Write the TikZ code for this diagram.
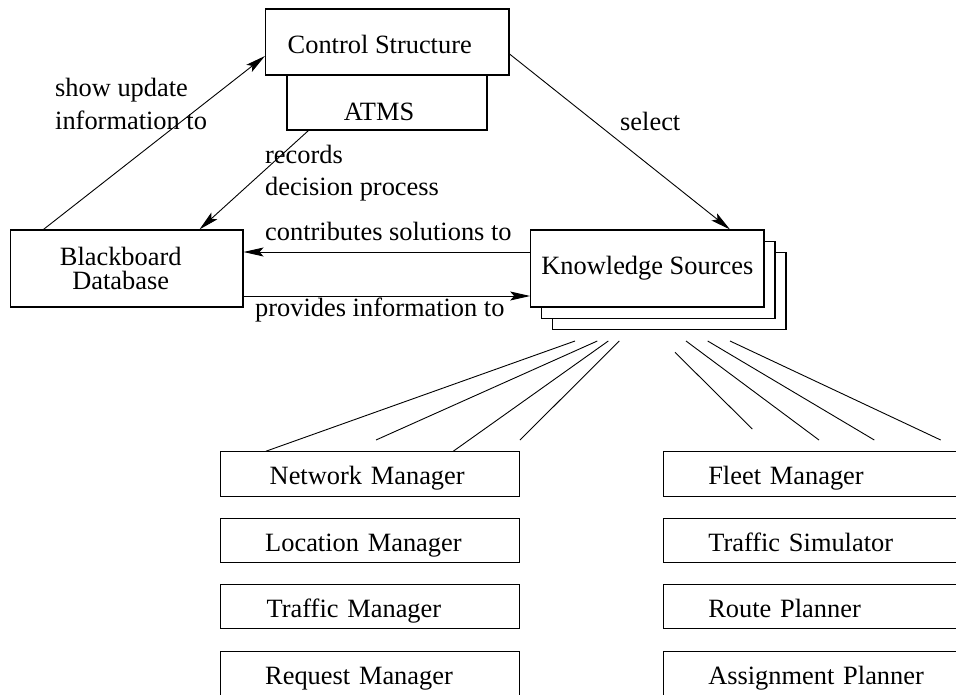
\documentclass[tikz,border=0pt]{standalone}
\usepackage{fontspec}
\setmainfont{Liberation Serif}
\usetikzlibrary{arrows.meta,calc}
\begin{document}
\begin{tikzpicture}[x=1pt,y=-1pt,
  every node/.style={font=\fontsize{26.4}{32.5}\selectfont},
  box/.style={draw, line width=1.1pt, fill=white, inner sep=0pt},
  lbl/.style={inner sep=0pt, anchor=base west},
  arr/.style={line width=0.9pt, -{Stealth[length=20pt,width=9pt,inset=4pt]}},
  ln/.style={line width=0.9pt},
  mgr/.style={box, minimum width=298.6pt, minimum height=44.3pt, text width=298.6pt, align=left, text height=22pt, text depth=0pt}
]
\clip (0,0) rectangle (956,694);

% top boxes
\node[box, minimum width=200pt, minimum height=55pt, text height=35pt, text depth=0pt] (atms) at (387,102.5) {ATMS\hspace*{16pt}};
\node[box, minimum width=243.5pt, minimum height=66pt, text height=22.6pt, text depth=0pt] (cs) at (387.25,42) {Control Structure\hspace*{15pt}};
\node[box, minimum width=232.5pt, minimum height=77pt, align=center, font=\fontsize{26.4}{24}\selectfont] (bb) at (126.75,268.5) {Blackboard\hspace*{12pt}\\Database\hspace*{12pt}};

% knowledge sources stack
\node[box, minimum width=233.3pt, minimum height=77pt] (ks3) at (669.35,291.2) {};
\node[box, minimum width=233.3pt, minimum height=77pt] (ks2) at (658.35,280) {};
\node[box, minimum width=233.3pt, minimum height=77pt] (ks) at (647.35,268.5) {Knowledge Sources};

% manager boxes
\node[mgr] (nm) at (370,473.9) {\hspace*{49pt}Network Manager};
\node[mgr] (lm) at (370,540.5) {\hspace*{44.5pt}Location Manager};
\node[mgr] (tm) at (370,606.7) {\hspace*{46pt}Traffic Manager};
\node[mgr] (rm) at (370,673.2) {\hspace*{44.5pt}Request Manager};
\node[mgr] (fm) at (812.6,473.9) {\hspace*{45pt}Fleet Manager};
\node[mgr] (ts) at (812.6,540.5) {\hspace*{45pt}Traffic Simulator};
\node[mgr] (rp) at (812.6,606.7) {\hspace*{45pt}Route Planner};
\node[mgr] (ap) at (812.6,673.2) {\hspace*{45pt}Assignment Planner};

% labels
\node[lbl] (l1) at (55,96.7) {\vtop{\hbox{show update}\hbox{information to}}};
\node[lbl] (l2) at (265,163.3) {\vtop{\hbox{records}\hbox{decision process}}};
\node[lbl] (l3) at (265,240.7) {contributes solutions to};
\node[lbl] (l4) at (255,316.7) {provides information to};
\node[lbl] (l5) at (620,130) {select};

% arrows
\draw[arr] ([xshift=33.5pt]bb.north west) -- (cs.west |- 0,56);
\draw[arr] ([xshift=22pt]atms.south west) -- ([xshift=189.5pt]bb.north west);
\draw[arr] (cs.east |- 0,54) -- (ks.north -| 730,0);
\draw[arr] (ks.west |- 0,252) -- (bb.east |- 0,252);
\draw[arr] (bb.east |- 0,296) -- (ks.west |- 0,296);

% fan lines
\coordinate (s1) at (575,341);
\coordinate (s2) at (597.3,341);
\coordinate (s3) at (608.3,341);
\coordinate (s4) at (619.3,341);
\coordinate (e2) at (376,440);
\coordinate (e4) at (520,440);
\coordinate (s5) at (675,352.3);
\coordinate (e5) at (752.3,429);
\coordinate (s6) at (686,341);
\coordinate (e6) at (819,440);
\coordinate (s7) at (707.7,341);
\coordinate (e7) at (874.3,440);
\coordinate (s8) at (730,341);
\coordinate (e8) at (940.7,440);
\draw[ln] (s1) -- (nm.north -| 266,0);
\draw[ln] (s2) -- (e2);
\draw[ln] (s3) -- (nm.north -| 453.3,0);
\draw[ln] (s4) -- (e4);
\draw[ln] (s5) -- (e5);
\draw[ln] (s6) -- (e6);
\draw[ln] (s7) -- (e7);
\draw[ln] (s8) -- (e8);
\end{tikzpicture}
\end{document}
